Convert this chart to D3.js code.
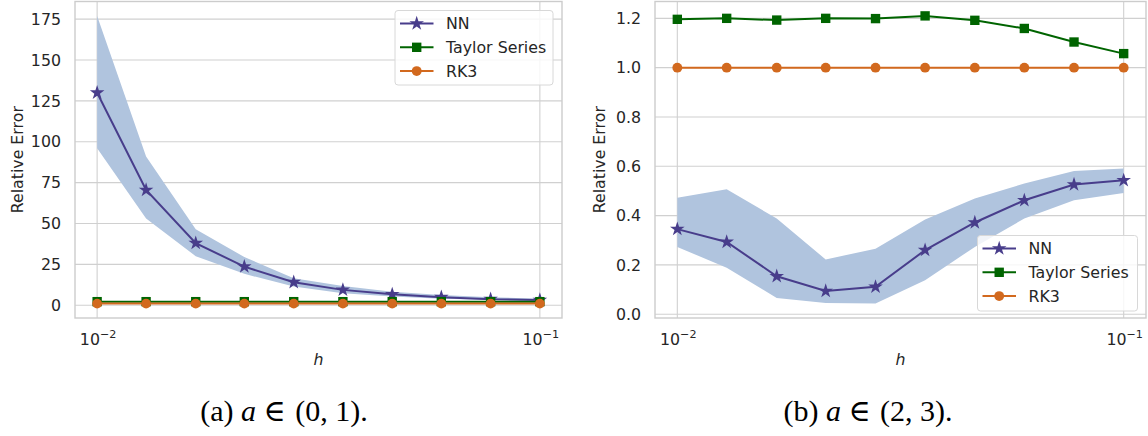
<!DOCTYPE html>
<html>
<head>
<meta charset="utf-8">
<script src="https://cdn.jsdelivr.net/npm/d3@7"></script>
<style>
  html, body { margin: 0; padding: 0; background: #fff; }
  svg { display: block; }
</style>
</head>
<body>
<svg id="chart" width="1148" height="436"></svg>
<script>
// ---------------- data ----------------
const hValues = [0.01, 0.0129, 0.0167, 0.0215, 0.0278, 0.0359, 0.0464, 0.0599, 0.0774, 0.1];
const xTickValues = [0.01, 0.1];
const xTickExponents = ["\u22122", "\u22121"];

// panel (a)
const nnA      = [130, 70.5, 38, 23.6, 14.1, 9.4, 6.7, 4.9, 3.7, 3.2];
const nnALow   = [96, 53, 30, 19.2, 11.4, 7.3, 5.3, 4.0, 3.3, 2.8];
const nnAHigh  = [177, 91, 46.5, 29.5, 16.5, 11.8, 8.3, 6.3, 4.9, 4.0];
const taylorA  = [2.2, 2.2, 2.2, 2.2, 2.2, 2.2, 2.2, 2.2, 2.2, 2.2];
const rk3A     = [1.0, 1.0, 1.0, 1.0, 1.0, 1.0, 1.0, 1.0, 1.0, 1.0];
const yTicksA  = [0, 25, 50, 75, 100, 125, 150, 175];

// panel (b)
const nnB      = [0.345, 0.293, 0.154, 0.094, 0.111, 0.26, 0.372, 0.462, 0.526, 0.543];
const nnBLow   = [0.273, 0.188, 0.066, 0.045, 0.043, 0.138, 0.273, 0.388, 0.462, 0.492];
const nnBHigh  = [0.472, 0.507, 0.388, 0.222, 0.266, 0.384, 0.469, 0.530, 0.581, 0.591];
const taylorB  = [1.196, 1.200, 1.193, 1.200, 1.199, 1.210, 1.192, 1.159, 1.104, 1.057];
const rk3B     = [1.0, 1.0, 1.0, 1.0, 1.0, 1.0, 1.0, 1.0, 1.0, 1.0];
const yTicksB  = [0.0, 0.2, 0.4, 0.6, 0.8, 1.0, 1.2];

const seriesNames = ["NN", "Taylor Series", "RK3"];
const captions = [["(a) ", "a", " \u2208 ", "(0, 1)."], ["(b) ", "a", " \u2208 ", "(2, 3)."]];
const yLabel = "Relative Error";
const xLabel = "h";

// ---------------- style ----------------
const COL_NN = "#483d8b", COL_BAND = "#b0c4de", COL_TAY = "#006400", COL_RK = "#d2691e";
const GRID = "#d0d0d0", TEXT = "#262626";
const FONT = "DejaVu Sans, sans-serif";
const FS = 15.8;

const svg = d3.select("#chart");

const panels = [
  { left: 75, right: 562, top: 1.5, bottom: 318, nn: nnA, lo: nnALow, hi: nnAHigh, tay: taylorA, rk: rk3A,
    yTicks: yTicksA, fmt: d3.format("d"), legend: { x: 395, y: 10.5, w: 158, h: 74.5 }, ylabX: 22.5, caption: captions[0], capX: 284 },
  { left: 655, right: 1146, top: 1.5, bottom: 318, nn: nnB, lo: nnBLow, hi: nnBHigh, tay: taylorB, rk: rk3B,
    yTicks: yTicksB, fmt: d3.format(".1f"), legend: { x: 977.5, y: 235.5, w: 160, h: 75.5 }, ylabX: 604.5, caption: captions[1], capX: 868 }
];

const starSym = d3.symbol().type(d3.symbolStar).size(66);
const sqSym = d3.symbol().type(d3.symbolSquare).size(88);
const circSym = d3.symbol().type(d3.symbolCircle).size(76);

panels.forEach(p => {
  const g = svg.append("g");
  // x scale: log with 5% margins (in log space)
  const lmin = Math.log10(d3.min(hValues)), lmax = Math.log10(d3.max(hValues));
  const lm = (lmax - lmin) * 0.05;
  const x = d3.scaleLog().domain([Math.pow(10, lmin - lm), Math.pow(10, lmax + lm)]).range([p.left, p.right]);
  // y scale with 5% margins
  const all = [].concat(p.nn, p.lo, p.hi, p.tay, p.rk);
  const ymin = d3.min(all), ymax = d3.max(all), ym = (ymax - ymin) * 0.05;
  const y = d3.scaleLinear().domain([ymin - ym, ymax + ym]).range([p.bottom, p.top]);

  // grid
  g.selectAll(".hg").data(p.yTicks).join("line")
    .attr("x1", p.left).attr("x2", p.right)
    .attr("y1", d => y(d)).attr("y2", d => y(d))
    .attr("stroke", GRID).attr("stroke-width", 1.1);
  g.selectAll(".vg").data(xTickValues).join("line")
    .attr("x1", d => x(d)).attr("x2", d => x(d))
    .attr("y1", p.top).attr("y2", p.bottom)
    .attr("stroke", GRID).attr("stroke-width", 1.1);

  // y tick labels
  g.selectAll(".yt").data(p.yTicks).join("text")
    .attr("x", p.left - 14).attr("y", d => y(d)).attr("dy", "0.36em")
    .attr("text-anchor", "end").attr("font-family", FONT).attr("font-size", FS).attr("fill", TEXT)
    .text(d => p.fmt(d));

  // x tick labels (10^k)
  xTickValues.forEach((v, i) => {
    const t = g.append("text").attr("x", x(v) + 1).attr("y", p.bottom + 26.5)
      .attr("text-anchor", "middle").attr("font-family", FONT).attr("font-size", FS).attr("fill", TEXT);
    t.append("tspan").text("10");
    t.append("tspan").attr("font-size", 11.2).attr("dy", -6.5).text(xTickExponents[i]);
  });

  // axis labels
  g.append("text").attr("x", (p.left + p.right) / 2).attr("y", p.bottom + 47)
    .attr("text-anchor", "middle").attr("font-family", FONT).attr("font-size", FS)
    .attr("font-style", "italic").attr("fill", TEXT).text(xLabel);
  g.append("text").attr("transform", `translate(${p.ylabX},${(p.top + p.bottom) / 2}) rotate(-90)`)
    .attr("text-anchor", "middle").attr("font-family", FONT).attr("font-size", FS).attr("fill", TEXT)
    .text(yLabel);

  // band
  const area = d3.area().x((d, i) => x(hValues[i])).y0((d, i) => y(p.lo[i])).y1((d, i) => y(p.hi[i]));
  g.append("path").datum(p.lo).attr("d", area).attr("fill", COL_BAND);

  const line = d3.line().x((d, i) => x(hValues[i])).y(d => y(d));
  const drawSeries = (vals, color, sym) => {
    g.append("path").datum(vals).attr("d", line).attr("fill", "none").attr("stroke", color).attr("stroke-width", 2);
    g.selectAll(null).data(vals).join("path")
      .attr("transform", (d, i) => `translate(${x(hValues[i])},${y(d)})`)
      .attr("d", sym).attr("fill", color);
  };
  drawSeries(p.nn, COL_NN, starSym);
  drawSeries(p.tay, COL_TAY, sqSym);
  drawSeries(p.rk, COL_RK, circSym);

  // frame
  g.append("rect").attr("x", p.left).attr("y", p.top).attr("width", p.right - p.left).attr("height", p.bottom - p.top)
    .attr("fill", "none").attr("stroke", "#cccccc").attr("stroke-width", 1.4);

  // legend
  const L = p.legend;
  const lg = g.append("g");
  lg.append("rect").attr("x", L.x).attr("y", L.y).attr("width", L.w).attr("height", L.h).attr("rx", 3)
    .attr("fill", "#fff").attr("fill-opacity", 0.82).attr("stroke", "#d8d8d8").attr("stroke-width", 1);
  const cols = [COL_NN, COL_TAY, COL_RK], syms = [starSym, sqSym, circSym];
  seriesNames.forEach((name, i) => {
    const yy = L.y + 13 + i * 23.8;
    lg.append("line").attr("x1", L.x + 5).attr("x2", L.x + 38.5).attr("y1", yy).attr("y2", yy)
      .attr("stroke", cols[i]).attr("stroke-width", 2);
    lg.append("path").attr("transform", `translate(${L.x + 21.7},${yy})`).attr("d", syms[i]).attr("fill", cols[i]);
    lg.append("text").attr("x", L.x + 51).attr("y", yy).attr("dy", "0.36em")
      .attr("font-family", FONT).attr("font-size", FS).attr("fill", TEXT).text(name);
  });

  // caption
  const c = svg.append("text").attr("x", p.capX).attr("y", 421).attr("text-anchor", "middle")
    .attr("font-family", "Liberation Serif, DejaVu Serif, serif").attr("font-size", 30).attr("fill", "#000");
  c.append("tspan").text(p.caption[0]);
  c.append("tspan").attr("font-style", "italic").text(p.caption[1]);
  c.append("tspan").text(p.caption[2]);
  c.append("tspan").attr("dx", 2).text(p.caption[3]);
});
</script>
</body>
</html>
